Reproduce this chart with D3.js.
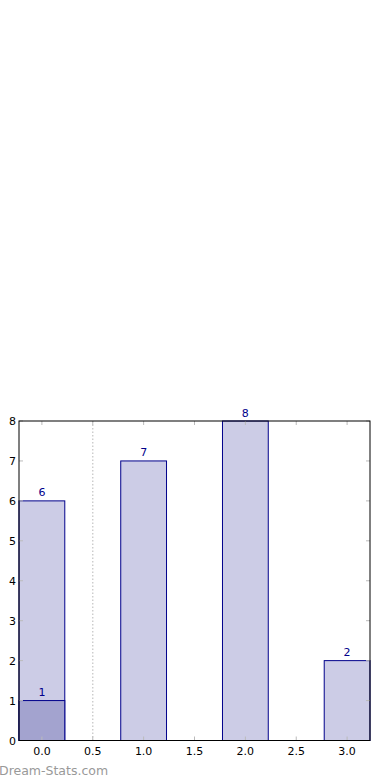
<!DOCTYPE html>
<html><head><meta charset="utf-8">
<script src="https://cdn.jsdelivr.net/npm/d3@7"></script>
<style>body{margin:0;background:#fff}svg{display:block}</style>
</head><body>
<svg id="c" width="390" height="780"></svg>
<script>
const categories = [0, 1, 2, 3];
const values = [6, 7, 8, 2];
const highlightCategory = [0];
const highlightValues = [1];
const xTicks = [0.0, 0.5, 1.0, 1.5, 2.0, 2.5, 3.0];
const yTicks = [0, 1, 2, 3, 4, 5, 6, 7, 8];
const markerX = [0.5];

const svg = d3.select("#c");
const L = 19, R = 370, T = 421, B = 740.5;
const x = d3.scaleLinear().domain([-0.225, 3.225]).range([L, R]);
const y = d3.scaleLinear().domain([0, 8]).range([B, T]);
const bw = 0.45;
const font = "DejaVu Sans, sans-serif";
const tickCol = "#bbbbbb";

// marker dotted line
svg.selectAll(".mk").data(markerX).enter().append("line")
  .attr("x1", d => x(d)).attr("x2", d => x(d)).attr("y1", T).attr("y2", B)
  .attr("stroke", "#c8c8c8").attr("stroke-width", 1.3).attr("stroke-dasharray", "1.5,2");

// bars
svg.selectAll(".bar").data(categories).enter().append("rect")
  .attr("x", (d) => x(d - bw/2)).attr("width", x(bw) - x(0))
  .attr("y", (d,i) => y(values[i])).attr("height", (d,i) => y(0) - y(values[i]))
  .attr("fill", "#cccce6").attr("stroke", "#00008b").attr("stroke-width", 1);

svg.selectAll(".hb").data(highlightCategory).enter().append("rect")
  .attr("x", (d) => x(d - bw/2)).attr("width", x(bw) - x(0))
  .attr("y", (d,i) => y(highlightValues[i])).attr("height", (d,i) => y(0) - y(highlightValues[i]))
  .attr("fill", "#a3a3cf").attr("stroke", "#00008b").attr("stroke-width", 1);

// value labels
const lab = (cats, vals) => svg.append("g").selectAll("text").data(cats).enter().append("text")
  .attr("x", d => x(d)).attr("y", (d,i) => y(vals[i]) - 4.5)
  .attr("text-anchor", "middle").attr("font-family", font).attr("font-size", 11)
  .attr("fill", "#00008b").text((d,i) => vals[i]);
lab(categories, values);
lab(highlightCategory, highlightValues);

// ticks inside on all sides
const g = svg.append("g");
xTicks.forEach(t => {
  g.append("line").attr("x1", x(t)).attr("x2", x(t)).attr("y1", B).attr("y2", B-4).attr("stroke", tickCol);
  g.append("line").attr("x1", x(t)).attr("x2", x(t)).attr("y1", T).attr("y2", T+4).attr("stroke", tickCol);
  g.append("text").attr("x", x(t)).attr("y", B + 14).attr("text-anchor", "middle")
    .attr("font-family", font).attr("font-size", 11).attr("fill", "#000").text(d3.format(".1f")(t));
});
yTicks.forEach(t => {
  g.append("line").attr("x1", L).attr("x2", L+4).attr("y1", y(t)).attr("y2", y(t)).attr("stroke", tickCol);
  g.append("line").attr("x1", R).attr("x2", R-4).attr("y1", y(t)).attr("y2", y(t)).attr("stroke", tickCol);
  g.append("text").attr("x", L - 3).attr("y", y(t) + 4).attr("text-anchor", "end")
    .attr("font-family", font).attr("font-size", 11).attr("fill", "#000").text(t);
});

// frame
svg.append("rect").attr("x", L).attr("y", T).attr("width", R-L).attr("height", B-T)
  .attr("fill", "none").attr("stroke", "#000").attr("stroke-width", 1);

// watermark
svg.append("text").attr("x", -1).attr("y", 775).attr("font-family", font).attr("font-size", 12.5)
  .attr("fill", "#999999").text("Dream-Stats.com");
</script>
</body></html>
